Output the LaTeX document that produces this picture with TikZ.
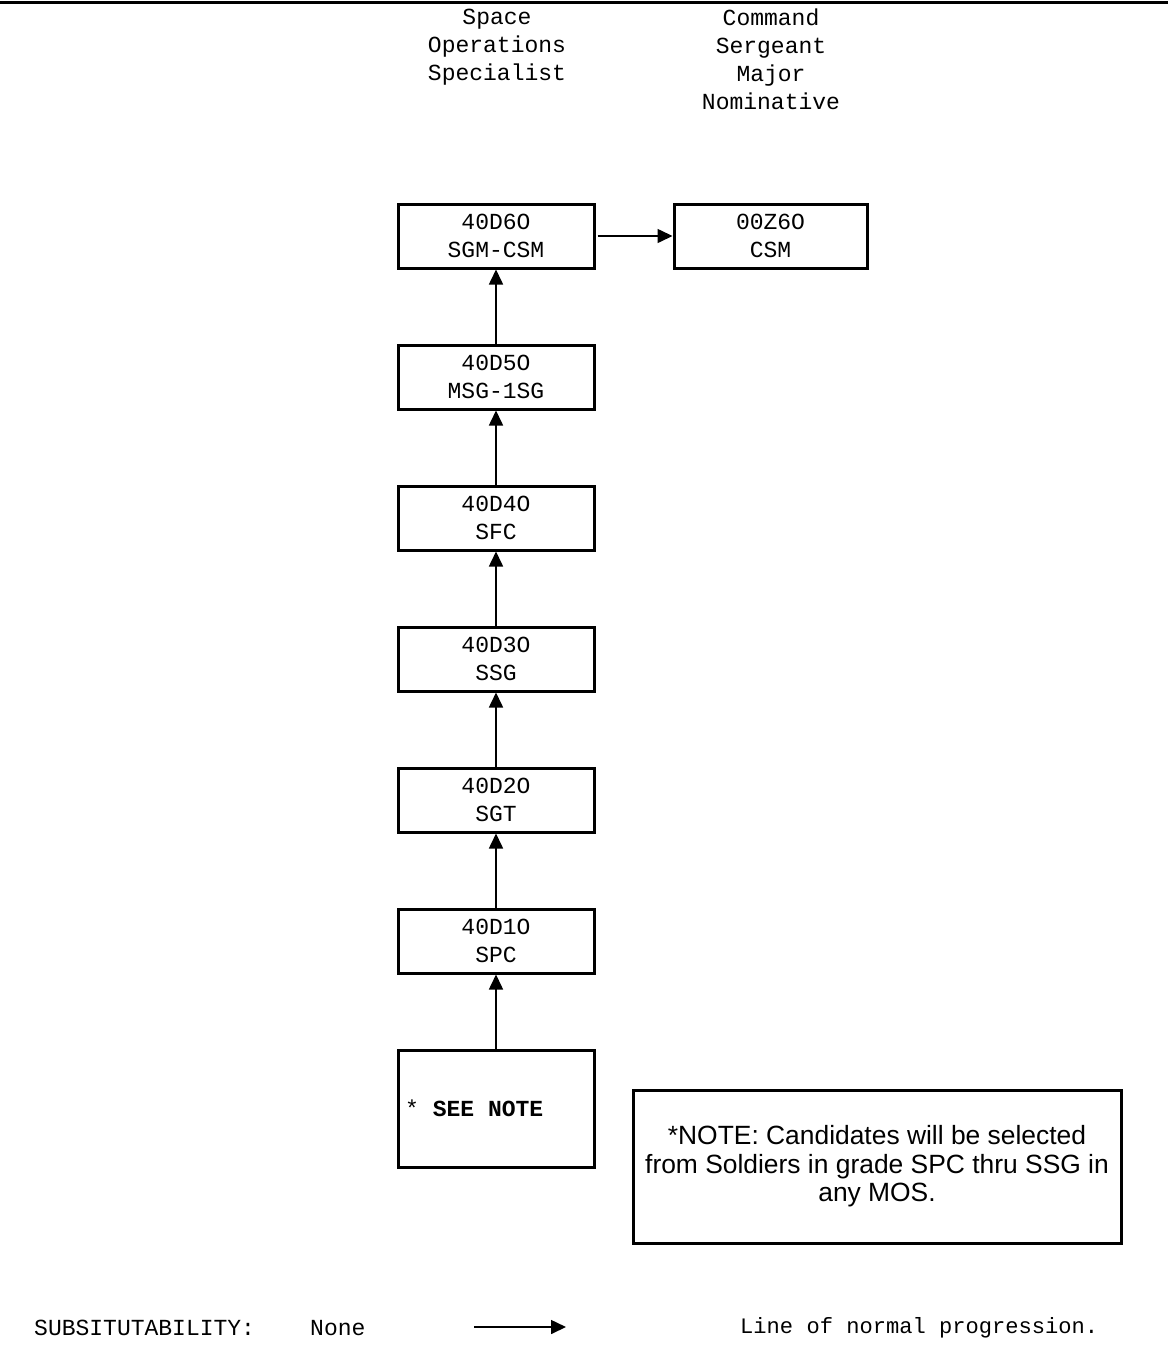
\documentclass[tikz,border=0pt]{standalone}
\usepackage{fontspec}
\setmainfont{Liberation Serif}
\setmonofont{Liberation Mono}
\setsansfont{Liberation Sans}
\usetikzlibrary{arrows.meta}
\begin{document}
\begin{tikzpicture}[x=1pt,y=-1pt,
  rank/.style={draw,line width=3pt,minimum width=196pt,minimum height=64pt,inner sep=0pt,
    align=center,font=\ttfamily\fontsize{23}{28}\selectfont},
  hdr/.style={align=center,inner sep=0pt,font=\ttfamily\fontsize{23}{28}\selectfont},
  prog/.style={line width=1.6pt,-{Triangle[length=15pt,width=14pt]}},
  lbl/.style={inner sep=0pt,anchor=west,font=\ttfamily\fontsize{23}{28}\selectfont}]
\useasboundingbox (0,0) rectangle (1168,1352);
\draw[line width=3pt] (0,2) -- (1168,2);
% headers
\node[hdr,anchor=north] (h1) at (497,9) {Space\\Operations\\Specialist};
\node[hdr,anchor=north] (h2) at (771,9) {Command\\Sergeant\\Major\\Nominative};
% boxes
\node[rank] (b6) at (496,236) {40D6O\\SGM-CSM};
\node[rank,minimum width=193pt] (z6) at (770.5,236) {00Z6O\\CSM};
\node[rank] (b5) at (496,377) {40D5O\\MSG-1SG};
\node[rank] (b4) at (496,518) {40D4O\\SFC};
\node[rank] (b3) at (496,659) {40D3O\\SSG};
\node[rank] (b2) at (496,800) {40D2O\\SGT};
\node[rank] (b1) at (496,941) {40D1O\\SPC};
\node[rank,minimum height=117pt] (sn) at (496,1108.5) {};
\node[lbl] (snt) at (405,1108) {*\ \textbf{SEE NOTE}};
\node[draw,line width=3pt,minimum width=488pt,minimum height=153pt,inner sep=0pt,align=center,
  font=\sffamily\fontsize{26.4}{28.5}\selectfont] (note) at (877,1166.5)
  {*NOTE: Candidates will be selected\\from Soldiers in grade SPC thru SSG in\\any MOS.};
% arrows
\draw[prog] (sn.north) -- (b1.south);
\draw[prog] (b1.north) -- (b2.south);
\draw[prog] (b2.north) -- (b3.south);
\draw[prog] (b3.north) -- (b4.south);
\draw[prog] (b4.north) -- (b5.south);
\draw[prog] (b5.north) -- (b6.south);
\draw[prog] (b6.east) ++(2,0) coordinate (s6) (s6) -- (z6.west);
% legend
\node[lbl] (sub) at (34,1328) {SUBSITUTABILITY:\ \ \ \ None};
\coordinate (la) at (474,1327);
\coordinate (lb) at (566,1327);
\draw[prog] (la) -- (lb);
\node[lbl,font=\ttfamily\fontsize{22.1}{28}\selectfont] (lop) at (740,1328) {Line of normal progression.};
\end{tikzpicture}
\end{document}
